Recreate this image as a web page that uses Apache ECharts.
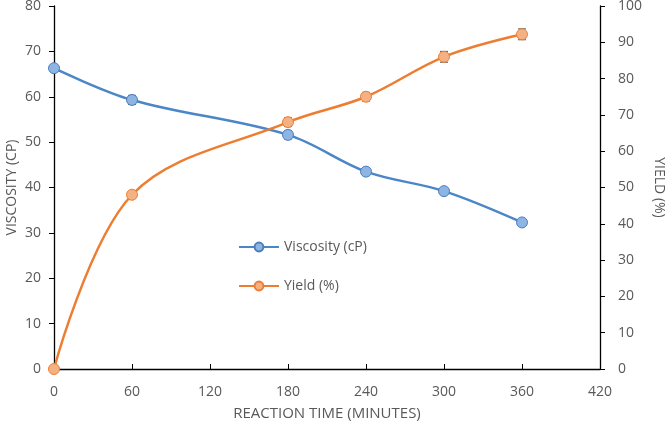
<!DOCTYPE html>
<html><head><meta charset="utf-8">
<script src="https://cdn.jsdelivr.net/npm/echarts@6/dist/echarts.min.js"></script>
<style>html,body{margin:0;padding:0;background:#fff}#c{width:669px;height:425px}</style>
</head><body><div id="c"></div>
<script>
var times = [0, 60, 180, 240, 300, 360];
var viscosity = [66.3, 59.3, 51.6, 43.5, 39.2, 32.3];
var viscosityErr = [0.8, 1.0, 0.9, 0.6, 0.5, 0.5];
var yieldPct = [0, 48.0, 68.0, 75.0, 86.0, 92.2];
var yieldErr = [0, 0.8, 1.2, 1.2, 1.5, 1.5];
var xTicks = [0, 60, 120, 180, 240, 300, 360, 420];

var txt = '#595959';
var font = 'Open Sans, Noto Sans, sans-serif';

function pairs(xs, ys){ return xs.map(function(x,i){return [x, ys[i]];}); }
function errData(xs, ys, es){ return xs.map(function(x,i){return [x, ys[i]-es[i], ys[i]+es[i]];}); }
function errRender(params, api){
  var x = api.value(0);
  var lo = api.coord([x, api.value(1)]);
  var hi = api.coord([x, api.value(2)]);
  var w = 4;
  var st = {stroke:'#555', lineWidth:1};
  return {type:'group', children:[
    {type:'line', shape:{x1:lo[0],y1:lo[1],x2:hi[0],y2:hi[1]}, style:st},
    {type:'line', shape:{x1:lo[0]-w,y1:lo[1],x2:lo[0]+w,y2:lo[1]}, style:st},
    {type:'line', shape:{x1:hi[0]-w,y1:hi[1],x2:hi[0]+w,y2:hi[1]}, style:st}
  ]};
}

var chart = echarts.init(document.getElementById('c'));
chart.setOption({
  animation:false,
  textStyle:{fontFamily:font},
  grid:{left:54, right:69, top:6, bottom:56, containLabel:false, outerBoundsMode:'none'},
  legend:{
    orient:'vertical', left:233, top:235, itemGap:25, itemWidth:40, itemHeight:11,
    textStyle:{color:txt, fontSize:14, fontFamily:font},
    data:['Viscosity (cP)','Yield (%)']
  },
  xAxis:{
    type:'value', min:0, max:420, interval:60,
    name:'REACTION TIME (MINUTES)', nameLocation:'middle', nameGap:37,
    nameTextStyle:{color:txt, fontSize:15},
    axisLine:{lineStyle:{color:'#000', width:1.3}},
    axisTick:{inside:true, length:5, lineStyle:{color:'#000'}},
    axisLabel:{color:txt, fontSize:14, margin:16},
    splitLine:{show:false}
  },
  yAxis:[{
    type:'value', min:0, max:80, interval:10,
    name:'VISCOSITY (CP)', nameLocation:'middle', nameGap:35, nameMoveOverlap:false,
    nameTextStyle:{color:txt, fontSize:14},
    axisLine:{show:true, lineStyle:{color:'#000', width:1.3}},
    axisTick:{show:true, length:5, lineStyle:{color:'#000'}},
    axisLabel:{color:txt, fontSize:14, margin:13},
    splitLine:{show:false}
  },{
    type:'value', min:0, max:100, interval:10, position:'right',
    name:'YIELD (%)', nameLocation:'middle', nameGap:52, nameRotate:-90, nameMoveOverlap:false,
    nameTextStyle:{color:txt, fontSize:14},
    axisLine:{show:true, lineStyle:{color:'#000', width:1.3}},
    axisTick:{show:true, length:5, lineStyle:{color:'#000'}},
    axisLabel:{color:txt, fontSize:14, margin:18},
    splitLine:{show:false}
  }],
  series:[{
    name:'Viscosity (cP)', type:'line', yAxisIndex:0, smooth:0.35,
    data:pairs(times, viscosity), symbol:'circle', symbolSize:11,
    lineStyle:{color:'#4A86C8', width:2.5},
    itemStyle:{color:'#8DB4E2', borderColor:'#4A7EBB', borderWidth:1},
    z:3
  },{
    name:'Yield (%)', type:'line', yAxisIndex:1, smooth:0.35,
    data:pairs(times, yieldPct), symbol:'circle', symbolSize:11,
    lineStyle:{color:'#ED7D31', width:2.5},
    itemStyle:{color:'#F4B183', borderColor:'#ED7D31', borderWidth:1},
    z:3
  },{
    type:'custom', yAxisIndex:0, renderItem:errRender,
    data:errData(times, viscosity, viscosityErr), z:2, silent:true
  },{
    type:'custom', yAxisIndex:1, renderItem:errRender,
    data:errData(times, yieldPct, yieldErr), z:2, silent:true
  }]
});
</script></body></html>
